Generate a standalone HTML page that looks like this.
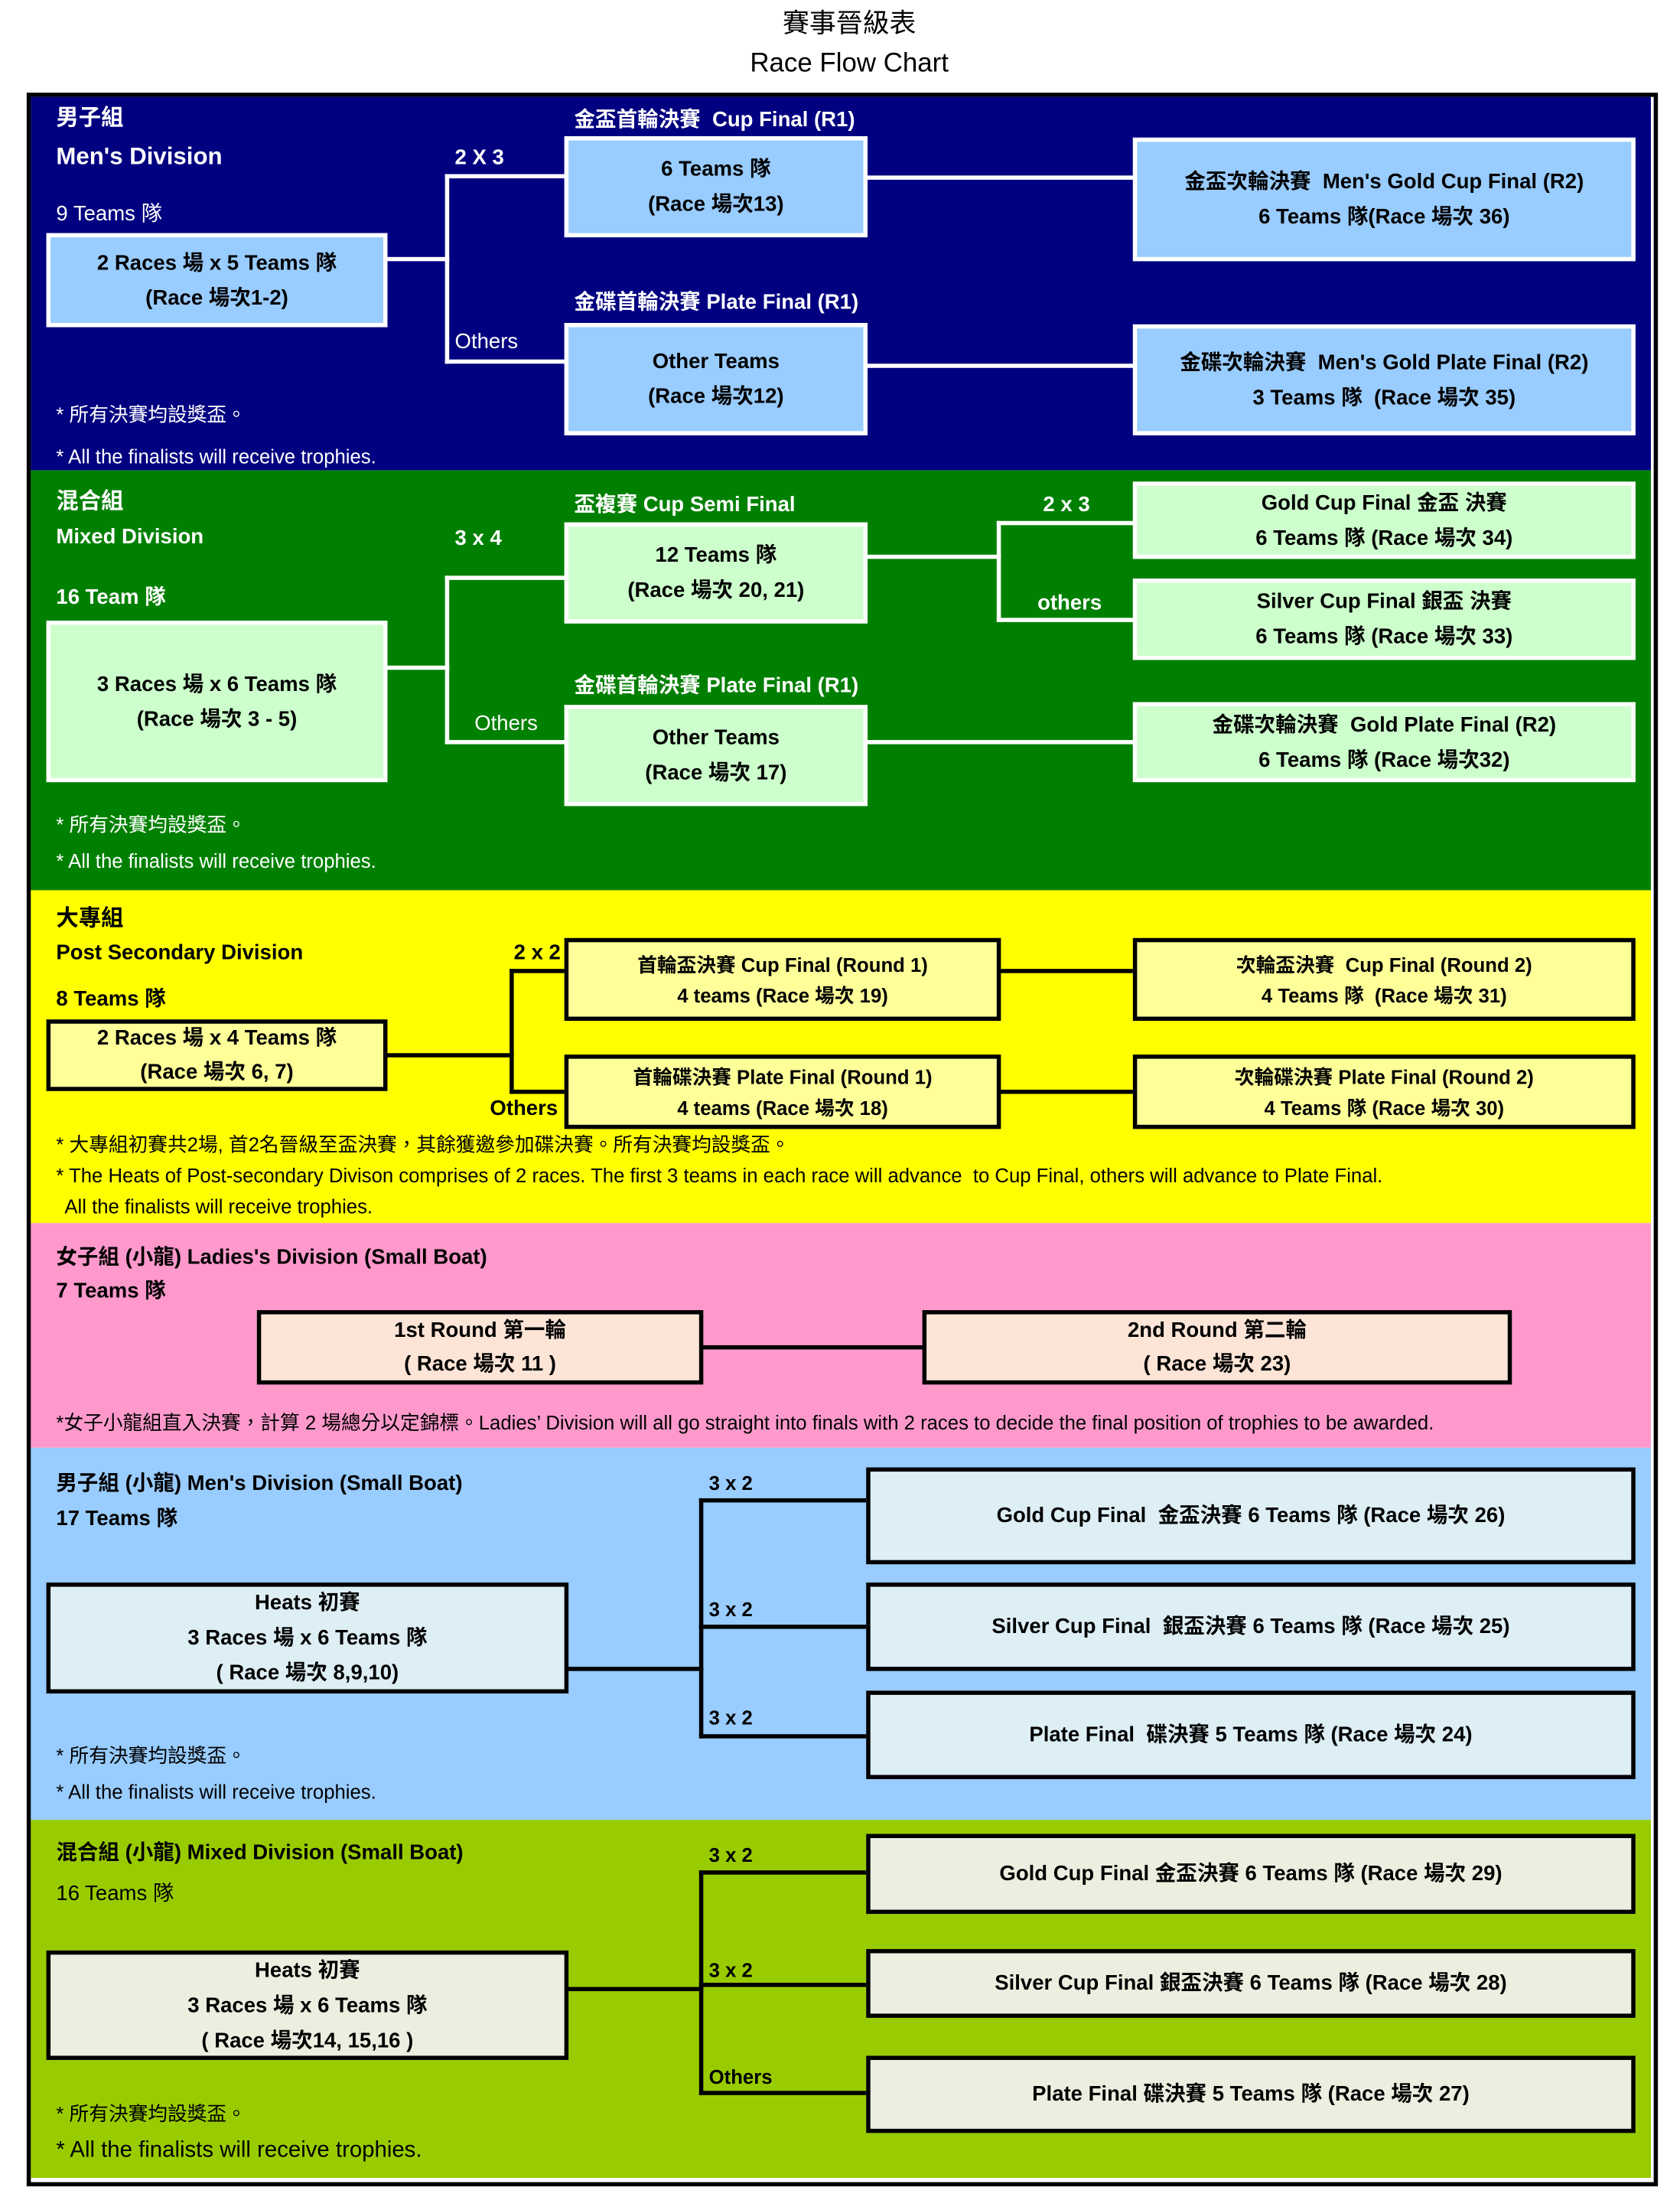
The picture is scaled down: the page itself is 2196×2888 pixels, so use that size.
<!DOCTYPE html>
<html><head><meta charset="utf-8">
<style>
html,body{margin:0;padding:0;background:#fff;}
body{width:2196px;height:2880px;overflow:hidden;position:relative;}
#c{position:absolute;left:0;top:0;width:1200px;height:1574px;transform:scale(1.835);transform-origin:0 0;font-family:"Liberation Sans Narrow","Liberation Sans","Noto Sans CJK TC",sans-serif;}
.s{position:absolute;left:22px;width:1154px;}
.t{position:absolute;white-space:nowrap;line-height:20px;font-size:15px;}
.w{color:#fff}
.bd{font-weight:bold}
.b{position:absolute;box-sizing:border-box;display:flex;flex-direction:column;justify-content:center;align-items:center;font-weight:bold;font-size:15px;line-height:25px;text-align:center;color:#000;white-space:nowrap;border:3px solid #000;}
.bw{border-color:#fff}
.h{position:absolute;height:3px;}
.v{position:absolute;width:3px;}
.lw{background:#fff}
.lb{background:#000}
</style></head><body><div id="c">
<div class="t" style="left:0;width:1210px;text-align:center;top:7px;font-size:19px;line-height:22px">賽事晉級表</div>
<div class="t" style="left:0;width:1210px;text-align:center;top:35px;font-size:19px;line-height:22px">Race Flow Chart</div>

<div style="position:absolute;left:19px;top:66px;width:1156px;height:1485px;border:3px solid #000;"></div>
<div class="s" style="top:69px;height:266px;background:#000080"></div>
<div class="s" style="top:335px;height:299px;background:#008000"></div>
<div class="s" style="top:634px;height:237px;background:#ffff00"></div>
<div class="s" style="top:871px;height:160px;background:#ff99cc"></div>
<div class="s" style="top:1031px;height:265px;background:#99ccff"></div>
<div class="s" style="top:1296px;height:255px;background:#99cc00"></div>

<!-- Men's -->
<div class="t w bd" style="left:40px;top:75px;font-size:16px">男子組</div>
<div class="t w bd" style="left:40px;top:102px;font-size:17px">Men's Division</div>
<div class="t w" style="left:40px;top:143px">9 Teams 隊</div>
<div class="b bw" style="left:33px;top:166px;width:243px;height:67px;background:#99ccff">2 Races 場 x 5 Teams 隊<br>(Race 場次1-2)</div>
<div class="h lw" style="left:275px;top:183px;width:45px"></div>
<div class="v lw" style="left:317px;top:124px;height:135px"></div>
<div class="h lw" style="left:317px;top:124px;width:87px"></div>
<div class="h lw" style="left:317px;top:256px;width:87px"></div>
<div class="t w bd" style="left:324px;top:103px">2 X 3</div>
<div class="t w" style="left:324px;top:234px">Others</div>
<div class="t w bd" style="left:409px;top:76px">金盃首輪決賽&nbsp; Cup Final (R1)</div>
<div class="b bw" style="left:402px;top:97px;width:216px;height:72px;background:#99ccff">6 Teams 隊<br>(Race 場次13)</div>
<div class="h lw" style="left:617px;top:125px;width:192px"></div>
<div class="b bw" style="left:807px;top:98px;width:358px;height:88px;background:#99ccff">金盃次輪決賽&nbsp; Men's Gold Cup Final (R2)<br>6 Teams 隊(Race 場次 36)</div>
<div class="t w bd" style="left:409px;top:206px">金碟首輪決賽 Plate Final (R1)</div>
<div class="b bw" style="left:402px;top:230px;width:216px;height:80px;background:#99ccff">Other Teams<br>(Race 場次12)</div>
<div class="h lw" style="left:617px;top:259px;width:192px"></div>
<div class="b bw" style="left:807px;top:231px;width:358px;height:79px;background:#99ccff">金碟次輪決賽&nbsp; Men's Gold Plate Final (R2)<br>3 Teams 隊&nbsp; (Race 場次 35)</div>
<div class="t w" style="left:40px;top:285px;font-size:14px">* 所有決賽均設獎盃。</div>
<div class="t w" style="left:40px;top:315px;font-size:14px">* All the finalists will receive trophies.</div>

<!-- Mixed -->
<div class="t w bd" style="left:40px;top:348px;font-size:16px">混合組</div>
<div class="t w bd" style="left:40px;top:373px">Mixed Division</div>
<div class="t w bd" style="left:40px;top:416px">16 Team 隊</div>
<div class="t w bd" style="left:324px;top:374px">3 x 4</div>
<div class="b bw" style="left:33px;top:442px;width:243px;height:115px;background:#ccffcc">3 Races 場 x 6 Teams 隊<br>(Race 場次 3 - 5)</div>
<div class="h lw" style="left:275px;top:474px;width:45px"></div>
<div class="v lw" style="left:317px;top:410px;height:120px"></div>
<div class="h lw" style="left:317px;top:410px;width:87px"></div>
<div class="h lw" style="left:317px;top:527px;width:87px"></div>
<div class="t w bd" style="left:409px;top:350px">盃複賽 Cup Semi Final</div>
<div class="b bw" style="left:402px;top:372px;width:216px;height:72px;background:#ccffcc">12 Teams 隊<br>(Race 場次 20, 21)</div>
<div class="h lw" style="left:617px;top:395px;width:96px"></div>
<div class="v lw" style="left:710px;top:371px;height:72px"></div>
<div class="h lw" style="left:710px;top:371px;width:99px"></div>
<div class="h lw" style="left:710px;top:440px;width:99px"></div>
<div class="t w bd" style="left:743px;top:350px">2 x 3</div>
<div class="t w bd" style="left:739px;top:420px">others</div>
<div class="b bw" style="left:807px;top:343px;width:358px;height:55px;background:#ccffcc">Gold Cup Final 金盃 決賽<br>6 Teams 隊 (Race 場次 34)</div>
<div class="b bw" style="left:807px;top:412px;width:358px;height:58px;background:#ccffcc">Silver Cup Final 銀盃 決賽<br>6 Teams 隊 (Race 場次 33)</div>
<div class="t w bd" style="left:409px;top:479px">金碟首輪決賽 Plate Final (R1)</div>
<div class="t w" style="left:338px;top:506px">Others</div>
<div class="b bw" style="left:402px;top:502px;width:216px;height:72px;background:#ccffcc">Other Teams<br>(Race 場次 17)</div>
<div class="h lw" style="left:617px;top:527px;width:192px"></div>
<div class="b bw" style="left:807px;top:500px;width:358px;height:57px;background:#ccffcc">金碟次輪決賽&nbsp; Gold Plate Final (R2)<br>6 Teams 隊 (Race 場次32)</div>
<div class="t w" style="left:40px;top:577px;font-size:14px">* 所有決賽均設獎盃。</div>
<div class="t w" style="left:40px;top:603px;font-size:14px">* All the finalists will receive trophies.</div>

<!-- Post secondary -->
<div class="t bd" style="left:40px;top:645px;font-size:16px">大專組</div>
<div class="t bd" style="left:40px;top:669px">Post Secondary Division</div>
<div class="t bd" style="left:40px;top:702px">8 Teams 隊</div>
<div class="b" style="left:33px;top:726px;width:243px;height:51px;background:#ffff99;line-height:24px">2 Races 場 x 4 Teams 隊<br>(Race 場次 6, 7)</div>
<div class="h lb" style="left:275px;top:750px;width:91px"></div>
<div class="v lb" style="left:363px;top:690px;height:89px"></div>
<div class="h lb" style="left:363px;top:690px;width:41px"></div>
<div class="h lb" style="left:363px;top:776px;width:41px"></div>
<div class="t bd" style="left:366px;top:669px">2 x 2</div>
<div class="t bd" style="left:349px;top:780px">Others</div>
<div class="b" style="left:402px;top:668px;width:311px;height:59px;background:#ffff99;font-size:14px;line-height:22px">首輪盃決賽 Cup Final (Round 1)<br>4 teams (Race 場次 19)</div>
<div class="b" style="left:402px;top:751px;width:311px;height:53px;background:#ffff99;font-size:14px;line-height:22px">首輪碟決賽 Plate Final (Round 1)<br>4 teams (Race 場次 18)</div>
<div class="h lb" style="left:712px;top:690px;width:97px"></div>
<div class="h lb" style="left:712px;top:776px;width:97px"></div>
<div class="b" style="left:807px;top:668px;width:358px;height:59px;background:#ffff99;font-size:14px;line-height:22px">次輪盃決賽&nbsp; Cup Final (Round 2)<br>4 Teams 隊&nbsp; (Race 場次 31)</div>
<div class="b" style="left:807px;top:751px;width:358px;height:53px;background:#ffff99;font-size:14px;line-height:22px">次輪碟決賽 Plate Final (Round 2)<br>4 Teams 隊 (Race 場次 30)</div>
<div class="t" style="left:40px;top:805px;font-size:14px">* 大專組初賽共2場, 首2名晉級至盃決賽，其餘獲邀參加碟決賽。所有決賽均設獎盃。</div>
<div class="t" style="left:40px;top:827px;font-size:14px">* The Heats of Post-secondary Divison comprises of 2 races. The first 3 teams in each race will advance&nbsp; to Cup Final, others will advance to Plate Final.</div>
<div class="t" style="left:46px;top:849px;font-size:14px">All the finalists will receive trophies.</div>

<!-- Ladies -->
<div class="t bd" style="left:40px;top:886px">女子組 (小龍) Ladies's Division (Small Boat)</div>
<div class="t bd" style="left:40px;top:910px">7 Teams 隊</div>
<div class="b" style="left:183px;top:933px;width:318px;height:53px;background:#fce4d6;line-height:24px">1st Round 第一輪<br>( Race 場次 11 )</div>
<div class="h lb" style="left:500px;top:958px;width:159px"></div>
<div class="b" style="left:657px;top:933px;width:420px;height:53px;background:#fce4d6;line-height:24px">2nd Round 第二輪<br>( Race 場次 23)</div>
<div class="t" style="left:40px;top:1003px;font-size:14px">*女子小龍組直入決賽，計算 2 場總分以定錦標。Ladies’ Division will all go straight into finals with 2 races to decide the final position of trophies to be awarded.</div>

<!-- Men small boat -->
<div class="t bd" style="left:40px;top:1047px">男子組 (小龍) Men's Division (Small Boat)</div>
<div class="t bd" style="left:40px;top:1072px">17 Teams 隊</div>
<div class="b" style="left:33px;top:1127px;width:372px;height:79px;background:#ddeef5;line-height:25px">Heats 初賽<br>3 Races 場 x 6 Teams 隊<br>( Race 場次 8,9,10)</div>
<div class="h lb" style="left:404px;top:1187px;width:97px"></div>
<div class="v lb" style="left:498px;top:1067px;height:171px"></div>
<div class="h lb" style="left:498px;top:1067px;width:121px"></div>
<div class="h lb" style="left:498px;top:1157px;width:121px"></div>
<div class="h lb" style="left:498px;top:1235px;width:121px"></div>
<div class="t bd" style="left:505px;top:1046px;font-size:14px">3 x 2</div>
<div class="t bd" style="left:505px;top:1136px;font-size:14px">3 x 2</div>
<div class="t bd" style="left:505px;top:1213px;font-size:14px">3 x 2</div>
<div class="b" style="left:617px;top:1045px;width:548px;height:69px;background:#ddeef5">Gold Cup Final&nbsp; 金盃決賽 6 Teams 隊 (Race 場次 26)</div>
<div class="b" style="left:617px;top:1127px;width:548px;height:63px;background:#ddeef5">Silver Cup Final&nbsp; 銀盃決賽 6 Teams 隊 (Race 場次 25)</div>
<div class="b" style="left:617px;top:1204px;width:548px;height:63px;background:#ddeef5">Plate Final&nbsp; 碟決賽 5 Teams 隊 (Race 場次 24)</div>
<div class="t" style="left:40px;top:1240px;font-size:14px">* 所有決賽均設獎盃。</div>
<div class="t" style="left:40px;top:1266px;font-size:14px">* All the finalists will receive trophies.</div>

<!-- Mixed small boat -->
<div class="t bd" style="left:40px;top:1310px">混合組 (小龍) Mixed Division (Small Boat)</div>
<div class="t" style="left:40px;top:1339px">16 Teams 隊</div>
<div class="b" style="left:33px;top:1389px;width:372px;height:78px;background:#ebefdf;line-height:25px">Heats 初賽<br>3 Races 場 x 6 Teams 隊<br>( Race 場次14, 15,16 )</div>
<div class="h lb" style="left:404px;top:1415px;width:97px"></div>
<div class="v lb" style="left:498px;top:1332px;height:160px"></div>
<div class="h lb" style="left:498px;top:1332px;width:121px"></div>
<div class="h lb" style="left:498px;top:1412px;width:121px"></div>
<div class="h lb" style="left:498px;top:1489px;width:121px"></div>
<div class="t bd" style="left:505px;top:1311px;font-size:14px">3 x 2</div>
<div class="t bd" style="left:505px;top:1393px;font-size:14px">3 x 2</div>
<div class="t bd" style="left:505px;top:1469px;font-size:14px">Others</div>
<div class="b" style="left:617px;top:1306px;width:548px;height:57px;background:#ebefdf">Gold Cup Final 金盃決賽 6 Teams 隊 (Race 場次 29)</div>
<div class="b" style="left:617px;top:1388px;width:548px;height:49px;background:#ebefdf">Silver Cup Final 銀盃決賽 6 Teams 隊 (Race 場次 28)</div>
<div class="b" style="left:617px;top:1464px;width:548px;height:55px;background:#ebefdf">Plate Final 碟決賽 5 Teams 隊 (Race 場次 27)</div>
<div class="t" style="left:40px;top:1495px;font-size:14px">* 所有決賽均設獎盃。</div>
<div class="t" style="left:40px;top:1522px;font-size:16px">* All the finalists will receive trophies.</div>
</div></body></html>
